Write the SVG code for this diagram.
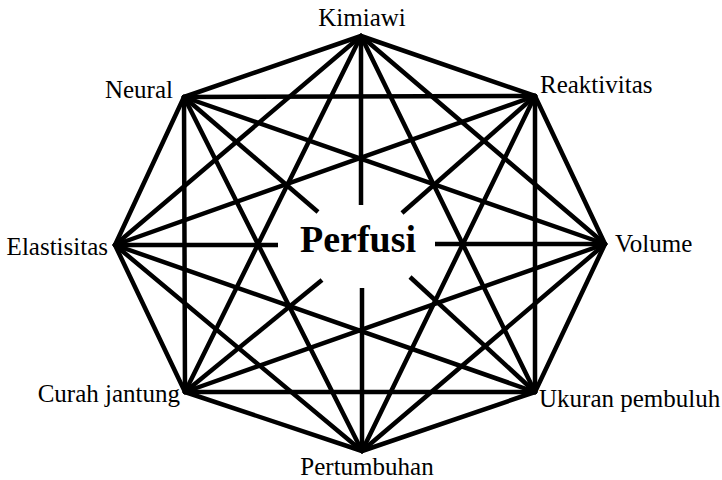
<svg xmlns="http://www.w3.org/2000/svg" width="722" height="480" viewBox="0 0 722 480">
<style>
.lbl{font-family:"Liberation Serif","Times New Roman",serif;font-size:25px;fill:#000}
.ctr{font-family:"Liberation Serif","Times New Roman",serif;font-size:38px;font-weight:bold;fill:#000}
.e{stroke:#000;stroke-width:4.5;stroke-linecap:round;fill:none}
.c{stroke:#000;stroke-width:4.5;stroke-linecap:butt;fill:none}
</style>
<rect width="722" height="480" fill="#fff"/>
<g id="connectors">
<line class="e" x1="361" y1="36" x2="535" y2="96"/>
<line class="e" x1="361" y1="36" x2="605" y2="244"/>
<line class="e" x1="361" y1="36" x2="535" y2="392"/>
<line class="e" x1="361" y1="36" x2="185" y2="392"/>
<line class="e" x1="361" y1="36" x2="115" y2="245"/>
<line class="e" x1="361" y1="36" x2="184" y2="97"/>
<line class="e" x1="535" y1="96" x2="605" y2="244"/>
<line class="e" x1="535" y1="96" x2="535" y2="392"/>
<line class="e" x1="535" y1="96" x2="362" y2="451"/>
<line class="e" x1="535" y1="96" x2="115" y2="245"/>
<line class="e" x1="535" y1="96" x2="184" y2="97"/>
<line class="e" x1="605" y1="244" x2="535" y2="392"/>
<line class="e" x1="605" y1="244" x2="362" y2="451"/>
<line class="e" x1="605" y1="244" x2="185" y2="392"/>
<line class="e" x1="605" y1="244" x2="184" y2="97"/>
<line class="e" x1="535" y1="392" x2="362" y2="451"/>
<line class="e" x1="535" y1="392" x2="185" y2="392"/>
<line class="e" x1="535" y1="392" x2="115" y2="245"/>
<line class="e" x1="362" y1="451" x2="185" y2="392"/>
<line class="e" x1="362" y1="451" x2="115" y2="245"/>
<line class="e" x1="362" y1="451" x2="184" y2="97"/>
<line class="e" x1="185" y1="392" x2="115" y2="245"/>
<line class="e" x1="185" y1="392" x2="184" y2="97"/>
<line class="e" x1="115" y1="245" x2="184" y2="97"/>
<line class="c" x1="361" y1="36" x2="361" y2="205"/>
<line class="c" x1="362" y1="288" x2="362" y2="451"/>
<line class="c" x1="115" y1="245" x2="278" y2="245"/>
<line class="c" x1="435" y1="244" x2="605" y2="244"/>
<line class="c" x1="184" y1="97" x2="318" y2="212"/>
<line class="c" x1="410" y1="277" x2="535" y2="392"/>
<line class="c" x1="535" y1="96" x2="402" y2="213"/>
<line class="c" x1="322" y1="280" x2="185" y2="392"/>
</g>
<g id="perfusi"><text class="ctr" x="358" y="252" text-anchor="middle">Perfusi</text></g>
<g id="kimiawi"><text class="lbl" x="362" y="26" text-anchor="middle">Kimiawi</text></g>
<g id="reaktivitas"><text class="lbl" x="540" y="93">Reaktivitas</text></g>
<g id="volume"><text class="lbl" x="615" y="252">Volume</text></g>
<g id="ukuran-pembuluh"><text class="lbl" x="539" y="407">Ukuran pembuluh</text></g>
<g id="pertumbuhan"><text class="lbl" x="367" y="475" text-anchor="middle">Pertumbuhan</text></g>
<g id="curah-jantung"><text class="lbl" x="180" y="402" text-anchor="end">Curah jantung</text></g>
<g id="elastisitas"><text class="lbl" x="108" y="255" text-anchor="end">Elastisitas</text></g>
<g id="neural"><text class="lbl" x="173" y="98" text-anchor="end">Neural</text></g>
</svg>
